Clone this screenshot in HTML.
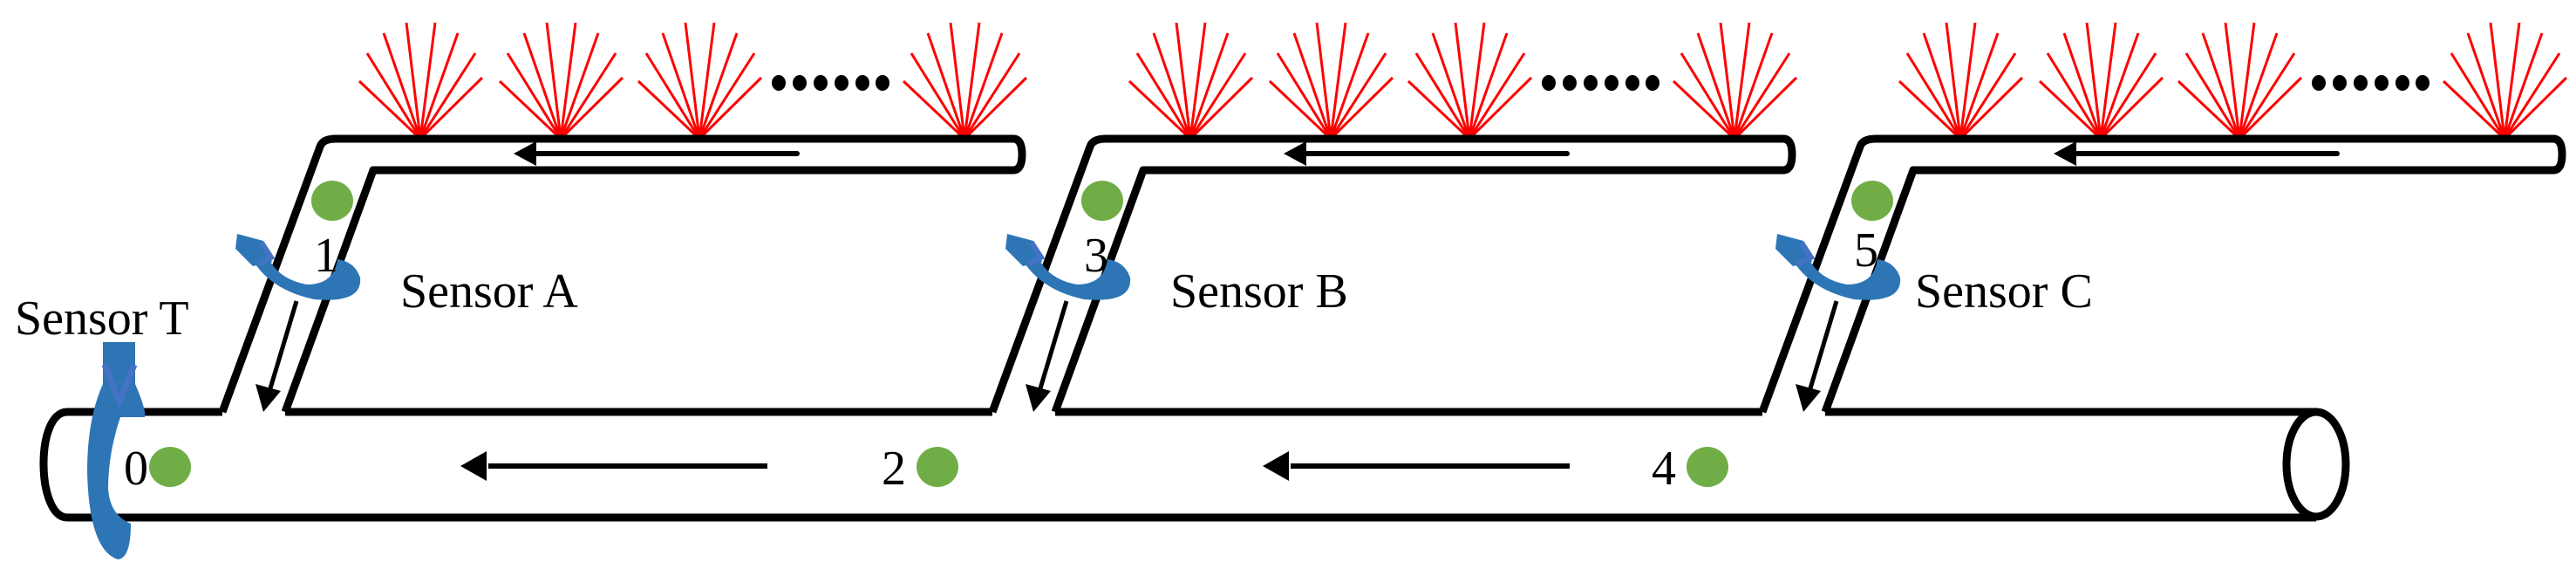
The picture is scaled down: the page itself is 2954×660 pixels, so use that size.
<!DOCTYPE html>
<html><head><meta charset="utf-8"><style>
html,body{margin:0;padding:0;background:#fff;}
svg{display:block;}
text{font-family:"Liberation Serif",serif;fill:#000;}
</style></head><body>
<svg width="2954" height="660" viewBox="0 0 2954 660" xmlns="http://www.w3.org/2000/svg">
<defs>
<g id="fan" stroke="#ff0000" stroke-width="3" fill="none">
<line x1="0" y1="0" x2="-70" y2="-66"/><line x1="0" y1="0" x2="-61" y2="-98"/>
<line x1="0" y1="0" x2="-42" y2="-121"/><line x1="0" y1="0" x2="-16" y2="-133"/>
<line x1="0" y1="0" x2="17" y2="-133"/><line x1="0" y1="0" x2="43" y2="-121"/>
<line x1="0" y1="0" x2="63" y2="-98"/><line x1="0" y1="0" x2="71" y2="-70"/>
</g>
<g id="dots" fill="#000">
<ellipse cx="893" cy="95" rx="8" ry="9"/><ellipse cx="917" cy="95" rx="8" ry="9"/>
<ellipse cx="941" cy="95" rx="8" ry="9"/><ellipse cx="965" cy="95" rx="8" ry="9"/>
<ellipse cx="989" cy="95" rx="8" ry="9"/><ellipse cx="1012" cy="95" rx="8" ry="9"/>
</g>
<g id="branch">
<use href="#fan" x="482" y="159"/><use href="#fan" x="643" y="159"/>
<use href="#fan" x="802" y="159"/><use href="#fan" x="1106" y="159"/>
<use href="#dots"/>
<path d="M255,472 L367,168 Q370,159 385,159 L1162,159 Q1172,159 1172,177 Q1172,195 1162,195 L428,195 L327,472" fill="none" stroke="#000" stroke-width="9" stroke-linejoin="round"/>
<line x1="914" y1="176" x2="610" y2="176" stroke="#000" stroke-width="6" stroke-linecap="round"/>
<polygon points="589,176 615,162 615,190" fill="#000"/>
<line x1="340" y1="345" x2="310" y2="445" stroke="#000" stroke-width="5"/>
<polygon points="302,472 293,440 322,448" fill="#000"/>
<ellipse cx="381" cy="230" rx="24" ry="23" fill="#70ad47"/>
<path d="M282,282 Q300,330 360,343 Q416,348 413,318 Q407,300 387,297 Q383,326 352,326 Q318,320 306,292 Z" fill="#2e75b6"/>
<polygon points="272,268 302,276 312,300 290,305 270,285" fill="#2e75b6"/>
<polyline points="300,278 311,295 296,303" fill="none" stroke="#4472c4" stroke-width="6"/>
</g>
<g id="marrow">
<line x1="880" y1="534" x2="560" y2="534" stroke="#000" stroke-width="6"/>
<polygon points="528,534 558,517 558,551" fill="#000"/>
</g>
</defs>

<use href="#branch"/>
<use href="#branch" x="883"/>
<use href="#branch" x="1766"/>
<use href="#marrow"/>
<use href="#marrow" x="920"/>

<g stroke="#000" stroke-width="9" fill="none">
<line x1="77" y1="472" x2="255" y2="472"/>
<line x1="327" y1="472" x2="1138" y2="472"/>
<line x1="1210" y1="472" x2="2021" y2="472"/>
<line x1="2093" y1="472" x2="2656" y2="472"/>
<line x1="77" y1="593" x2="2656" y2="593"/>
<path d="M77,472 C40,472 42,593 77,593"/>
<ellipse cx="2656" cy="532" rx="34" ry="60" fill="#fff"/>
</g>

<ellipse cx="195" cy="535" rx="24" ry="23" fill="#70ad47"/>
<ellipse cx="1075" cy="535" rx="24" ry="23" fill="#70ad47"/>
<ellipse cx="1958" cy="535" rx="24" ry="23" fill="#70ad47"/>

<!-- Sensor T -->
<path d="M118,392 L155,392 L155,440 Q168,470 166,478 L138,478 Q124,520 124,560 Q126,590 150,600 Q150,640 135,641 Q102,630 100,540 Q100,480 118,440 Z" fill="#2e75b6"/>
<polyline points="120,418 137,460 154,418" fill="none" stroke="#4472c4" stroke-width="7"/>

<g font-size="56">
<text x="17" y="383">Sensor T</text>
<text x="459" y="352">Sensor A</text>
<text x="1342" y="352">Sensor B</text>
<text x="2196" y="352">Sensor C</text>
<text x="360" y="311">1</text>
<text x="1243" y="311">3</text>
<text x="2126" y="305">5</text>
<text x="142" y="555">0</text>
<text x="1011" y="555">2</text>
<text x="1894" y="555">4</text>
</g>
</svg>
</body></html>
